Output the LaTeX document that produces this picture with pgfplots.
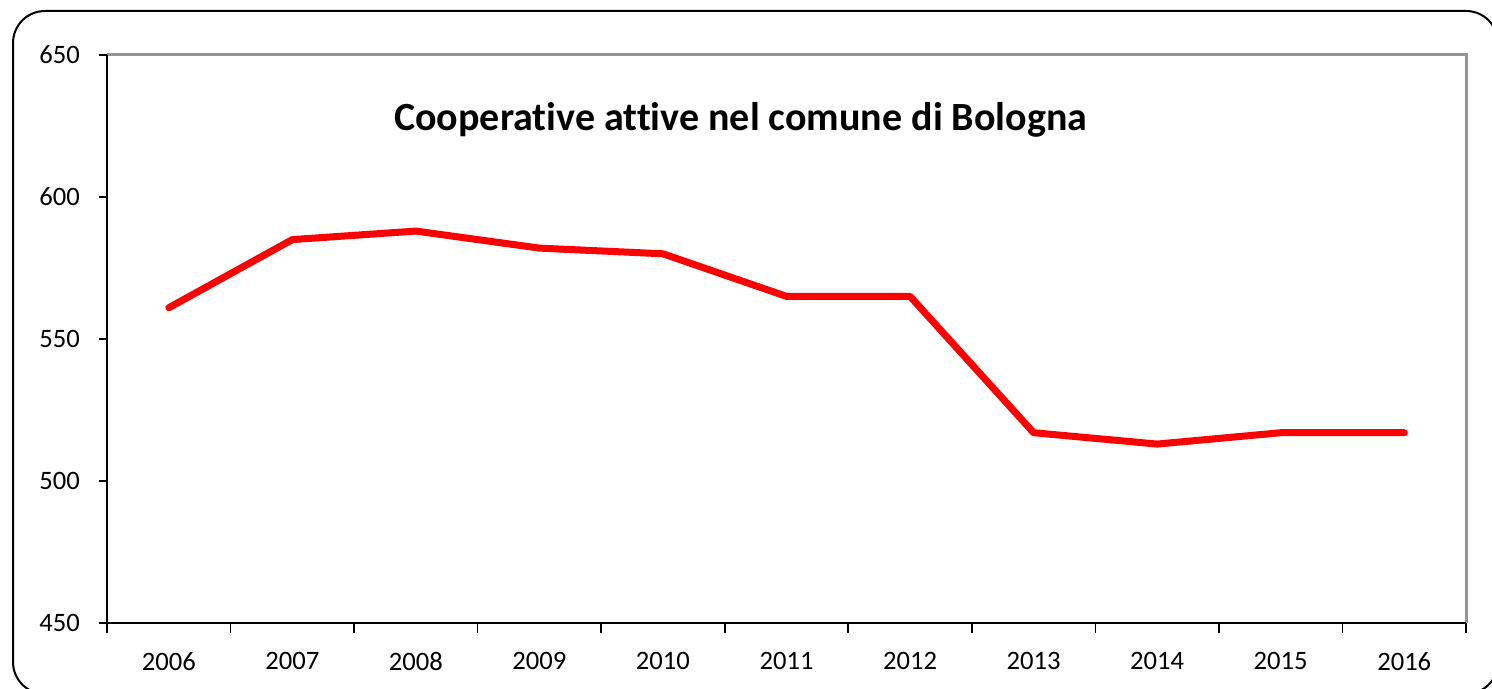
\documentclass[border=0pt]{standalone}
\usepackage{fontspec}
\setmainfont{Carlito}
\newfontfamily\titlefont[Ligatures=NoCommon]{Carlito}
\usepackage{pgfplots}
\pgfplotsset{compat=1.18}
\pgfplotstableread{
x y
0 561
1 585
2 588
3 582
4 580
5 565
6 565
7 517
8 513
9 517
10 517
}\coopdata
\begin{document}
\begin{tikzpicture}[x=0.5pt,y=0.5pt]
\useasboundingbox (0,0) rectangle (1492,689);
\clip (0,0) rectangle (1492,689);
\draw[line width=1pt, rounded corners=16pt] (13,678) rectangle (1498,-5);
\begin{axis}[
  at={(53.5pt,33pt)}, anchor=south west,
  scale only axis,
  width=679.5pt, height=284pt,
  xmin=-0.5, xmax=10.5,
  ymin=450, ymax=650,
  ytick={450,500,550,600,650},
  xtick={0,...,10},
  xticklabels={2006,2007,2008,2009,2010,2011,2012,2013,2014,2015,2016},
  minor xtick={-0.5,0.5,...,10.5},
  major x tick style={draw=none},
  xtick pos=bottom, ytick pos=left,
  tick align=outside,
  x tick style={black, line width=0.8pt},
  y tick style={black, line width=0.8pt},
  minor tick length=5pt,
  major tick length=4pt,
  axis line style={draw=none},
  tick label style={font=\fontsize{13.3}{15}\selectfont},
  /pgf/number format/assume math mode=true,
  yticklabel style={xshift=-6pt},
  xticklabel style={yshift=-7pt},
  clip=false,
]
\draw[gray!85, line width=1.5pt] (axis cs:-0.5,650) -- (axis cs:10.5,650) -- (axis cs:10.5,450);
\draw[black, line width=1pt] (axis cs:-0.5,650) -- (axis cs:-0.5,450) -- (axis cs:10.5,450);
\addplot[red, line width=3.5pt, line join=round, line cap=round] table[x=x,y=y] {\coopdata};
\node[font=\titlefont\bfseries\fontsize{20}{22}\selectfont] at (axis cs:4.63,627) {Cooperative attive nel comune di Bologna};
\end{axis}
\end{tikzpicture}
\end{document}
